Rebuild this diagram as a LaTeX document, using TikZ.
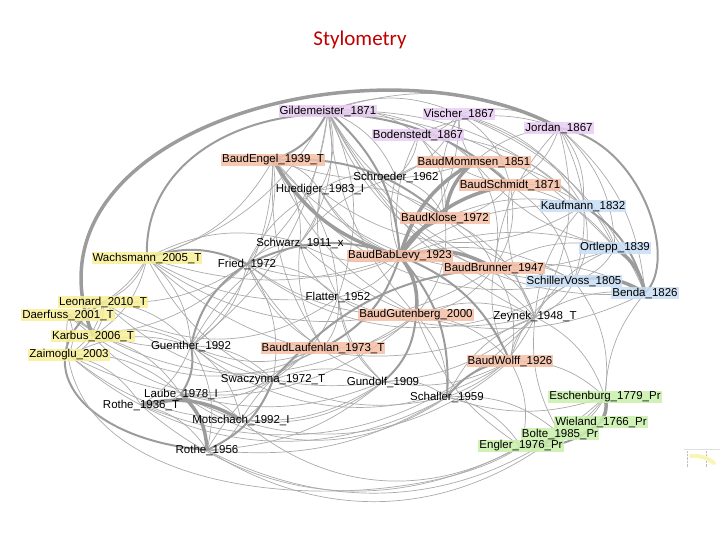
\documentclass[tikz,border=0pt]{standalone}
\usepackage{fontspec}
\setmainfont{Liberation Sans}
\newfontfamily\titlefont{Carlito}
\usetikzlibrary{backgrounds}

\definecolor{titlered}{HTML}{C00000}
\definecolor{lilac}{HTML}{E8CCF2}
\definecolor{salmon}{HTML}{F5BEA5}
\definecolor{skyblue}{HTML}{C8DEF5}
\definecolor{lemon}{HTML}{F8F096}
\definecolor{mint}{HTML}{C8F0AA}
\definecolor{wiregray}{HTML}{AAAAAA}
\definecolor{ropegray}{HTML}{9C9C9C}

\tikzset{
	lbl/.style={inner xsep=1pt, inner ysep=0.5pt, font=\fontsize{11.5}{12}\selectfont, fill opacity=0.85, text opacity=1},
	purp/.style={lbl, fill=lilac},
	orng/.style={lbl, fill=salmon},
	blu/.style={lbl, fill=skyblue},
	yell/.style={lbl, fill=lemon},
	grn/.style={lbl, fill=mint},
	wire/.style={draw=wiregray, line width=0.7pt},
	cord/.style={draw=ropegray, line width=2pt},
	rope/.style={draw=ropegray, line width=3.5pt}
}

\begin{document}
\begin{tikzpicture}[x=1pt,y=-1pt]
	\useasboundingbox (0,0) rectangle (720,540);
	\node[font=\titlefont\fontsize{21}{24}\selectfont, text=titlered] (title) at (360,40) {Stylometry};
	% purple
	\node[purp] (gild) at (328,111) {Gildemeister\_1871};
	\node[purp] (visch) at (459,114) {Vischer\_1867};
	\node[purp] (bod) at (418,135) {Bodenstedt\_1867};
	\node[purp] (jord) at (559,128) {Jordan\_1867};
	% orange
	\node[orng] (bengel) at (273,160) {BaudEngel\_1939\_T};
	\node[orng] (bmomm) at (474,162) {BaudMommsen\_1851};
	\node[orng] (bschm) at (510,185) {BaudSchmidt\_1871};
	\node[orng] (bklose) at (445,218) {BaudKlose\_1972};
	\node[orng] (bbab) at (400,256) {BaudBabLevy\_1923};
	\node[orng] (bbrun) at (494,268) {BaudBrunner\_1947};
	\node[orng] (bgut) at (416,315) {BaudGutenberg\_2000};
	\node[orng] (blauf) at (323,348) {BaudLaufenlan\_1973\_T};
	\node[orng] (bwolff) at (510,361) {BaudWolff\_1926};
	% blue
	\node[blu] (kauf) at (583,206) {Kaufmann\_1832};
	\node[blu] (ortl) at (615,248) {Ortlepp\_1839};
	\node[blu] (schv) at (574,281) {SchillerVoss\_1805};
	\node[blu] (benda) at (645,293) {Benda\_1826};
	% yellow
	\node[yell] (wachs) at (147,258) {Wachsmann\_2005\_T};
	\node[yell] (leon) at (103,302) {Leonard\_2010\_T};
	\node[yell] (daer) at (68,315) {Daerfuss\_2001\_T};
	\node[yell] (karb) at (93,336) {Karbus\_2006\_T};
	\node[yell] (zaim) at (69,355) {Zaimoglu\_2003};
	% plain
	\node[lbl] (schroe) at (396,177) {Schroeder\_1962};
	\node[lbl] (hued) at (320,190) {Huediger\_1983\_I};
	\node[lbl] (schwarz) at (300,243) {Schwarz\_1911\_x};
	\node[lbl] (fried) at (247,264) {Fried\_1972};
	\node[lbl] (flat) at (338,297) {Flatter\_1952};
	\node[lbl] (zeyn) at (535,317) {Zeynek\_1948\_T};
	\node[lbl] (guen) at (191,346) {Guenther\_1992};
	\node[lbl] (swacz) at (273,380) {Swaczynna\_1972\_T};
	\node[lbl] (gund) at (383,382) {Gundolf\_1909};
	\node[lbl] (schall) at (447,397) {Schaller\_1959};
	\node[lbl] (laube) at (181,394) {Laube\_1978\_I};
	\node[lbl] (roth36) at (141,405) {Rothe\_1936\_T};
	\node[lbl] (motsch) at (241,420) {Motschach\_1992\_I};
	\node[lbl] (roth56) at (207,450) {Rothe\_1956};
	% green
	\node[grn] (esch) at (605,397) {Eschenburg\_1779\_Pr};
	\node[grn] (wiel) at (601,422) {Wieland\_1766\_Pr};
	\node[grn] (bolte) at (560,434) {Bolte\_1985\_Pr};
	\node[grn] (engl) at (521,446) {Engler\_1976\_Pr};

	\begin{pgfonlayer}{background}
		% thin links
		\foreach \a/\b in {gild/bengel,gild/visch,gild/bod,gild/jord,gild/hued,gild/schroe,gild/schwarz,gild/wachs,gild/fried,gild/bmomm,gild/kauf,gild/ortl,gild/guen,gild/flat,
			visch/bod,visch/jord,visch/kauf,visch/bschm,visch/bbab,visch/ortl,visch/benda,visch/schroe,
			bod/bmomm,bod/schroe,bod/bklose,bod/jord,bod/kauf,
			jord/kauf,jord/ortl,jord/benda,jord/schv,jord/bschm,jord/zeyn,
			bengel/hued,bengel/schwarz,bengel/fried,bengel/wachs,bengel/flat,bengel/guen,
			bmomm/bschm,bmomm/bbrun,bmomm/kauf,
			bschm/bklose,bschm/bbrun,bschm/kauf,bschm/ortl,bschm/schv,
			bklose/bbrun,bklose/bgut,bklose/zeyn,
			bbab/flat,bbab/schwarz,bbab/fried,bbab/zeyn,bbab/schv,bbab/hued,
			bbrun/schv,bbrun/bgut,bbrun/zeyn,bbrun/bwolff,bbrun/ortl,
			bgut/flat,bgut/blauf,bgut/bwolff,bgut/zeyn,bgut/schall,
			bwolff/zeyn,bwolff/esch,bwolff/engl,bwolff/schv,
			kauf/ortl,kauf/schv,ortl/schv,schv/zeyn,schv/esch,
			wachs/leon,wachs/daer,wachs/karb,wachs/guen,wachs/schwarz,
			leon/daer,leon/karb,leon/zaim,leon/guen,daer/karb,daer/zaim,
			karb/zaim,karb/guen,karb/laube,zaim/roth36,zaim/laube,zaim/guen,
			fried/schwarz,fried/guen,fried/flat,fried/swacz,
			guen/swacz,guen/motsch,guen/roth56,
			swacz/gund,swacz/laube,swacz/motsch,swacz/blauf,
			gund/schall,gund/flat,gund/motsch,
			schall/engl,schall/bolte,schall/zeyn,
			laube/roth36,laube/motsch,roth36/roth56,motsch/roth56,
			esch/bolte,esch/engl,wiel/bolte,
			hued/schroe,hued/schwarz,hued/bklose,schroe/bklose,schroe/bmomm,
			flat/schwarz,flat/blauf,blauf/guen,zeyn/esch,zeyn/schall}
			\draw[wire] (\a.center) to[bend left=22] (\b.center);
		% more thin links, other way round
		\foreach \a/\b in {gild/bbrun,gild/bklose,gild/bgut,gild/zeyn,visch/bklose,visch/bmomm,bod/bbab,bod/bschm,jord/bmomm,jord/bbrun,
			bengel/bgut,bengel/blauf,bengel/bmomm,hued/bbab,hued/flat,hued/fried,schroe/bbab,schroe/schwarz,schwarz/blauf,schwarz/guen,
			fried/blauf,fried/gund,flat/zeyn,flat/gund,blauf/motsch,blauf/roth56,gund/zeyn,schall/esch,zeyn/bolte,kauf/zeyn,
			ortl/zeyn,benda/zeyn,benda/esch,benda/bbrun,ortl/bbab,kauf/bbab,bklose/schv,bmomm/ortl,wachs/bbab,wachs/flat,
			leon/fried,karb/fried,daer/guen,zaim/motsch,roth36/guen,roth56/gund,roth56/schall,motsch/gund,swacz/flat,swacz/schall,
			kauf/bklose,bschm/zeyn,bbrun/bwolff,bgut/engl,gund/bwolff,laube/gund,guen/gund,wachs/swacz,leon/swacz,fried/bgut}
			\draw[wire] (\a.center) to[bend right=18] (\b.center);
		% long arcs
		\foreach \a/\b in {roth56/esch,roth36/engl,zaim/schall,laube/bwolff,motsch/engl,daer/bgut,wachs/zeyn,
			gild/benda,bengel/ortl,hued/kauf,schwarz/benda,fried/schv,leon/flat,roth36/zeyn,karb/swacz,zaim/bgut,guen/bwolff,
			roth56/bolte,laube/schall,daer/blauf,wachs/bbrun,bengel/schv,gild/schv}
			\draw[wire] (\a.center) to[bend right=35] (\b.center);
		% heavier ties
		\foreach \a/\b in {gild/bbab,gild/bengel,bbab/blauf,bbab/bwolff,wachs/fried,fried/bbab,guen/fried,
			kauf/benda,wiel/engl,guen/laube,swacz/roth56,schall/bwolff,bengel/bklose,bgut/gund,swacz/bbrun,bbab/schall}
			\draw[cord] (\a.center) to[bend left=22] (\b.center);
		% heaviest ties
		\foreach \a/\b in {bbab/bklose,bbab/bmomm,bbab/bschm,bbab/bgut,bbab/bbrun,bbab/bengel,bklose/bmomm,
			ortl/benda,schv/benda,esch/wiel,bolte/engl,laube/roth56,roth36/motsch}
			\draw[rope] (\a.center) to[bend left=22] (\b.center);
		% big outer arcs
		\draw[rope] (karb.center) .. controls (10,130) and (380,30) .. (jord.center);
		\draw[cord] (wachs.center) .. controls (140,110) and (380,60) .. (bschm.center);
		\draw[cord] (leon.center) .. controls (20,360) and (80,440) .. (roth56.center);
		\draw[wire] (daer.center) .. controls (40,520) and (420,520) .. (engl.center);
		\draw[cord] (jord.center) .. controls (640,140) and (680,260) .. (benda.center);
	\end{pgfonlayer}

	% small legend thumbnail
	\draw[gray!25] (684,449) -- (720,449);
	\draw[gray!50, densely dotted] (687,451) -- (687,467);
	\draw[gray!50, densely dotted] (706,451) -- (706,467);
	\draw[lemon!70, line width=4pt, line cap=round] (691,456) to[bend left=20] (714,463);
\end{tikzpicture}
\end{document}
